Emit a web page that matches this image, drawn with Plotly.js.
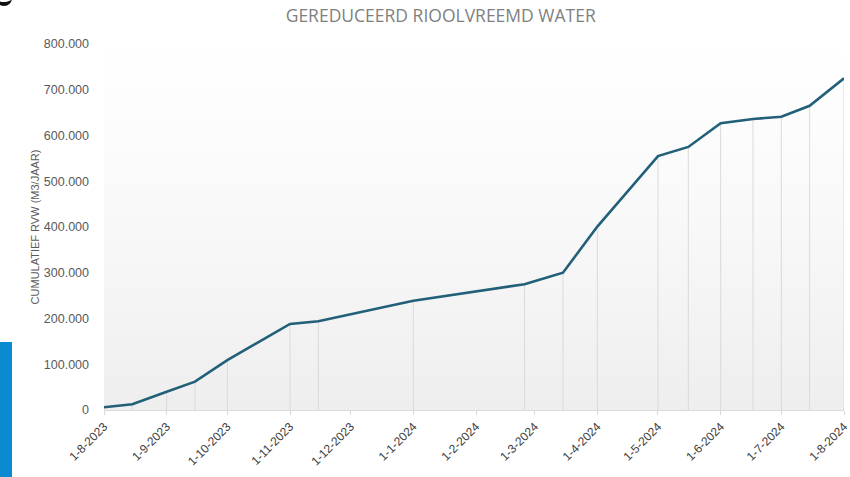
<!DOCTYPE html>
<html>
<head>
<meta charset="utf-8">
<script src="https://cdn.plot.ly/plotly-3.0.1.min.js"></script>
<style>
  html, body { margin: 0; padding: 0; background: #ffffff; }
  #wrap { position: relative; width: 850px; height: 477px; overflow: hidden; }
  #chart { position: absolute; left: 0; top: 0; width: 850px; height: 477px; }
  #bluebar { position: absolute; left: 0; top: 342px; width: 12px; height: 135px; background: #0a8bd1; }
  #glyph { position: absolute; left: -4px; top: -8px; width: 16px; height: 14px; border-bottom: 4px solid #111; border-radius: 0 0 10px 10px; box-sizing: border-box; }
</style>
</head>
<body>
<div id="wrap">
  <div id="chart"></div>
  <div id="bluebar"></div>
  <div id="glyph"></div>
</div>
<script>
const dates = [
  "2023-08-01", "2023-08-15", "2023-09-01", "2023-09-15", "2023-10-01",
  "2023-11-01", "2023-11-15", "2024-01-01", "2024-02-25", "2024-03-15",
  "2024-04-01", "2024-05-01", "2024-05-16", "2024-06-01", "2024-06-17",
  "2024-07-01", "2024-07-15", "2024-08-01"
];
const cumulativeRvw = [
  6000, 12500, 40000, 62000, 109000,
  188000, 194000, 239000, 275000, 300000,
  401000, 555000, 575000, 627000, 636000,
  641000, 665000, 725000
];
const tickDates = [
  "2023-08-01", "2023-09-01", "2023-10-01", "2023-11-01", "2023-12-01",
  "2024-01-01", "2024-02-01", "2024-03-01", "2024-04-01", "2024-05-01",
  "2024-06-01", "2024-07-01", "2024-08-01"
];
const tickLabels = [
  "1-8-2023", "1-9-2023", "1-10-2023", "1-11-2023", "1-12-2023",
  "1-1-2024", "1-2-2024", "1-3-2024", "1-4-2024", "1-5-2024",
  "1-6-2024", "1-7-2024", "1-8-2024"
];
const chartTitle = "GEREDUCEERD RIOOLVREEMD WATER";
const yTitle = "CUMULATIEF RVW (M3/JAAR)";

const zeros = cumulativeRvw.map(() => 0);

const dropLines = {
  x: dates,
  y: cumulativeRvw,
  type: "scatter",
  mode: "markers",
  marker: { size: 1, color: "rgba(0,0,0,0)" },
  error_y: {
    type: "data",
    symmetric: false,
    array: zeros,
    arrayminus: cumulativeRvw,
    color: "#dadada",
    thickness: 1,
    width: 0
  },
  hoverinfo: "skip",
  showlegend: false
};

const mainLine = {
  x: dates,
  y: cumulativeRvw,
  type: "scatter",
  mode: "lines",
  line: { color: "#225f79", width: 2.6 },
  showlegend: false
};

const gradSvg = '<svg xmlns="http://www.w3.org/2000/svg" width="10" height="100" preserveAspectRatio="none">' +
  '<defs><linearGradient id="g" x1="0" y1="0" x2="0" y2="1">' +
  '<stop offset="0" stop-color="#ffffff"/><stop offset="0.45" stop-color="#f9f9f9"/><stop offset="1" stop-color="#eeeeee"/>' +
  '</linearGradient></defs><rect width="10" height="100" fill="url(#g)"/></svg>';
const gradUri = "data:image/svg+xml;base64," + btoa(gradSvg);

const layout = {
  width: 850,
  height: 477,
  margin: { l: 104, r: 6, t: 44, b: 67 },
  paper_bgcolor: "#ffffff",
  plot_bgcolor: "rgba(0,0,0,0)",
  separators: ",.",
  font: { family: "Liberation Sans, Arial, sans-serif", color: "#595959", size: 12 },
  title: {
    text: chartTitle,
    font: { family: "Open Sans, Liberation Sans, sans-serif", size: 17.5, color: "#7f7f7f" },
    x: 0.455,
    xanchor: "center",
    xref: "paper",
    y: 0.966,
    yanchor: "middle"
  },
  images: [{
    source: gradUri,
    xref: "paper", yref: "paper",
    x: 0, y: 1, sizex: 1, sizey: 1,
    xanchor: "left", yanchor: "top",
    sizing: "stretch",
    layer: "below"
  }],
  xaxis: {
    type: "date",
    range: ["2023-08-01", "2024-08-01"],
    tickmode: "array",
    tickvals: tickDates,
    ticktext: tickLabels,
    tickangle: -45,
    tickfont: { size: 12, color: "#404040" },
    ticklabeloverflow: "allow",
    showgrid: false,
    zeroline: false,
    showline: true,
    linecolor: "#d9d9d9",
    linewidth: 1,
    ticks: "outside",
    ticklen: 4,
    tickcolor: "#d9d9d9",
    fixedrange: true
  },
  yaxis: {
    range: [0, 800000],
    dtick: 100000,
    tick0: 0,
    tickformat: ",d",
    tickfont: { size: 12.5, color: "#595959" },
    showgrid: false,
    zeroline: false,
    showline: false,
    ticks: "",
    ticklabelstandoff: 14,
    title: {
      text: yTitle,
      font: { size: 11, color: "#595959" },
      standoff: 1
    },
    fixedrange: true
  }
};

Plotly.newPlot("chart", [dropLines, mainLine], layout, { displayModeBar: false, staticPlot: true });
</script>
</body>
</html>
